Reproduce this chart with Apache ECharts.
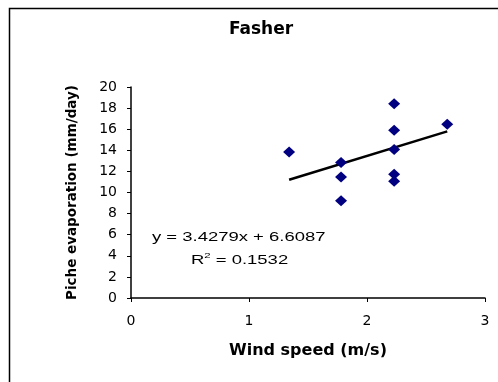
<!DOCTYPE html>
<html>
<head>
<meta charset="utf-8">
<script src="https://cdn.jsdelivr.net/npm/echarts@6/dist/echarts.min.js"></script>
<style>
html, body { margin: 0; padding: 0; background: #fff; }
#main { width: 498px; height: 382px; }
</style>
</head>
<body>
<div id="main"></div>
<script>
// wind speed (m/s) vs piche evaporation (mm/day)
var windSpeed = [1.34, 1.78, 1.78, 1.78, 2.23, 2.23, 2.23, 2.23, 2.23, 2.68];
var evaporation = [13.84, 12.84, 11.48, 9.21, 18.42, 15.9, 14.07, 11.73, 11.07, 16.46];
// trendline from the equation shown on the chart
var slope = 3.4279;
var intercept = 6.6087;
var eqText = 'y = 3.4279x + 6.6087';
var r2Text = 'R{sup|2} = 0.1532';

var points = [];
for (var i = 0; i < windSpeed.length; i++) {
    points.push([windSpeed[i], evaporation[i]]);
}
var xMin = Math.min.apply(null, windSpeed);
var xMax = Math.max.apply(null, windSpeed);
var trend = [[xMin, slope * xMin + intercept], [xMax, slope * xMax + intercept]];

var font = 'Liberation Sans, Arial, sans-serif';
var wide = 'DejaVu Sans, sans-serif';
var myChart = echarts.init(document.getElementById('main'));
var option = {
    animation: false,
    backgroundColor: '#fff',
    title: {
        text: 'Fasher',
        left: 256,
        top: 16,
        textAlign: 'center',
        textStyle: { fontFamily: wide, fontSize: 17, fontWeight: 'bold', color: '#000' }
    },
    graphic: [{
        type: 'rect',
        shape: { x: 9.5, y: 8.5, width: 600, height: 600 },
        style: { fill: 'none', stroke: '#000', lineWidth: 1.5 },
        z: -1
    }, {
        type: 'text',
        x: 152,
        y: 231,
        scaleX: 1.42,
        style: { text: eqText, font: '13px ' + font, fill: '#000', verticalAlign: 'top' }
    }, {
        type: 'text',
        x: 191,
        y: 252,
        scaleX: 1.42,
        style: {
            text: r2Text,
            font: '13px ' + font,
            fill: '#000',
            verticalAlign: 'top',
            rich: { sup: { fontSize: 8, verticalAlign: 'top', padding: [0, 0, 8, 0], fontFamily: font } }
        }
    }],
    grid: { left: 131, right: 13, top: 87, bottom: 84 },
    xAxis: {
        type: 'value',
        min: 0, max: 3, interval: 1,
        name: 'Wind speed (m/s)',
        nameLocation: 'middle',
        nameGap: 45,
        nameTextStyle: { fontFamily: wide, fontSize: 16, fontWeight: 'bold', color: '#000' },
        axisLine: { lineStyle: { color: '#000', width: 1.5 } },
        axisTick: { show: true, inside: false, length: 4, lineStyle: { color: '#000' } },
        axisLabel: { fontFamily: wide, fontSize: 14, color: '#000', margin: 16 },
        splitLine: { show: false }
    },
    yAxis: {
        type: 'value',
        min: 0, max: 20, interval: 2,
        name: 'Piche evaporation (mm/day)',
        nameLocation: 'middle',
        nameGap: 52,
        nameTextStyle: { fontFamily: wide, fontSize: 13.5, fontWeight: 'bold', color: '#000' },
        axisLine: { show: true, lineStyle: { color: '#000', width: 1.5 } },
        axisTick: { show: true, inside: false, length: 4, lineStyle: { color: '#000' } },
        axisLabel: { fontFamily: wide, fontSize: 14, color: '#000', margin: 14 },
        splitLine: { show: false }
    },
    series: [{
        type: 'scatter',
        data: points,
        symbol: 'diamond',
        symbolSize: [12, 11],
        itemStyle: { color: '#000080', opacity: 1 },
        z: 3
    }, {
        type: 'line',
        data: trend,
        symbol: 'none',
        lineStyle: { color: '#000', width: 2.5 },
        z: 2
    }]
};
myChart.setOption(option);
</script>
</body>
</html>
